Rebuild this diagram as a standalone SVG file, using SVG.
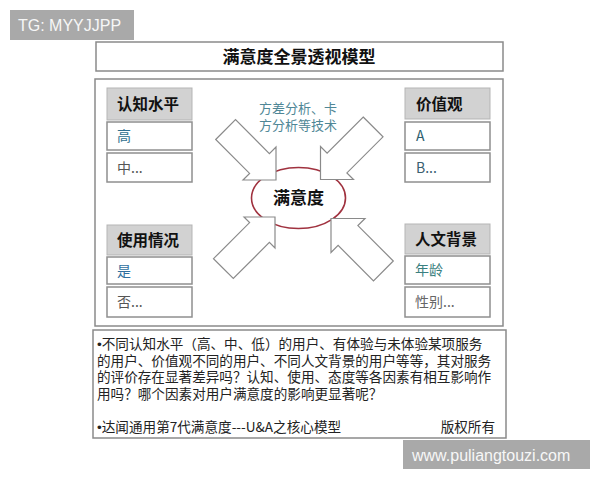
<svg xmlns="http://www.w3.org/2000/svg" width="600" height="480" viewBox="0 0 600 480">
<style>
.frame{fill:#fff;stroke:#8a8a8a;stroke-width:1.5}
.hdr{fill:#d2d2d2;stroke:#b5b5b5;stroke-width:1}
.item{fill:#fff;stroke:#8f8f8f;stroke-width:1.5}
.ht{font-family:"Noto Sans CJK SC","Noto Sans CJK TC",sans-serif;font-size:15.5px;font-weight:bold;fill:#111}
.it{font-family:"Noto Sans CJK SC","Liberation Sans",sans-serif;font-size:14px}
.body{font-family:"Noto Sans CJK SC","Liberation Sans",sans-serif;font-size:13.6px;fill:#222}
.blt{font-family:"Liberation Sans",Arial,sans-serif}
.arrow{fill:#fff;stroke:#8a8a8a;stroke-width:1.2;stroke-linejoin:miter}
.wm{fill:#a9a9a9}
.wmt{font-family:"Liberation Sans",Arial,sans-serif;font-size:16px;fill:#f7f7f7}
</style>
<rect width="600" height="480" fill="#fff"/>

<g id="watermark-top">
<rect class="wm" x="10" y="10" width="124" height="30"/>
<text class="wmt" x="18" y="31">TG: MYYJJPP</text>
</g>

<g id="title">
<rect class="frame" x="96" y="42" width="407" height="29"/>
<text x="299" y="63" text-anchor="middle" font-family="'Noto Sans CJK SC',sans-serif" font-size="17" font-weight="bold" fill="#111">满意度全景透视模型</text>
</g>

<g id="main-frame">
<rect class="frame" x="95" y="79" width="408" height="247"/>
</g>

<g id="center-ellipse">
<ellipse cx="298.5" cy="198" rx="47" ry="30.5" fill="#fff" stroke="#a0323f" stroke-width="1.6"/>
</g>

<g id="connectors">
<polygon class="arrow" points="215.7,139.5 235.5,119.7 269.4,153.6 276,147 276,180 243,180 249.6,173.4"/>
<polygon class="arrow" points="363.2,117 383,136.8 346.9,172.9 353.5,179.5 320.5,179.5 320.5,146.5 327.1,153.1"/>
<polygon class="arrow" points="275,217 275,248 269.4,242.4 233.3,278.5 213.5,258.7 249.6,222.6 244,217"/>
<polygon class="arrow" points="331,218.5 365,218.5 357.9,225.6 393.3,261 373.5,280.8 338.1,245.4 331,252.5"/>
</g>

<g id="center-label">
<text x="298.5" y="204" text-anchor="middle" font-family="'Noto Sans CJK SC',sans-serif" font-size="17" font-weight="bold" fill="#111">满意度</text>
</g>

<g id="method-note">
<text text-anchor="middle" font-family="'Noto Sans CJK SC',sans-serif" font-size="13" fill="#4f8796"><tspan x="298" y="113">方差分析、卡</tspan><tspan x="298" y="130">方分析等技术</tspan></text>
</g>

<g id="cognition">
<rect class="hdr" x="107" y="88" width="85" height="32"/>
<text class="ht" x="117" y="110">认知水平</text>
<rect class="item" x="107" y="122" width="85" height="28"/>
<text class="it" x="117" y="141" fill="#2f6f8f">高</text>
<rect class="item" x="107" y="153" width="85" height="29"/>
<text class="it" x="117" y="173" fill="#555">中...</text>
</g>

<g id="usage">
<rect class="hdr" x="107" y="225" width="85" height="30"/>
<text class="ht" x="117" y="246">使用情况</text>
<rect class="item" x="107" y="257" width="85" height="27"/>
<text class="it" x="117" y="276" fill="#2f6f9f">是</text>
<rect class="item" x="107" y="287" width="85" height="30"/>
<text class="it" x="117" y="307" fill="#555">否...</text>
</g>

<g id="values">
<rect class="hdr" x="405" y="88" width="85" height="31"/>
<text class="ht" x="416" y="110">价值观</text>
<rect class="item" x="405" y="122" width="85" height="28"/>
<text class="it" x="416" y="141" fill="#2f5f6f">A</text>
<rect class="item" x="405" y="153" width="85" height="29"/>
<text class="it" x="416" y="173" fill="#3a6070">B...</text>
</g>

<g id="culture">
<rect class="hdr" x="405" y="224" width="85" height="30"/>
<text class="ht" x="415" y="245">人文背景</text>
<rect class="item" x="405" y="256" width="85" height="28"/>
<text class="it" x="415" y="275" fill="#3a8080">年龄</text>
<rect class="item" x="405" y="287" width="85" height="30"/>
<text class="it" x="415" y="307" fill="#666">性别...</text>
</g>

<g id="notes">
<rect class="frame" x="93" y="330" width="413" height="108" stroke="#7a7a7a"/>
<text class="body"><tspan x="97" y="349"><tspan class="blt">•</tspan>不同认知水平（高、中、低）的用户、有体验与未体验某项服务</tspan><tspan x="97" y="365.5">的用户、价值观不同的用户、不同人文背景的用户等等，其对服务</tspan><tspan x="97" y="382">的评价存在显著差异吗？认知、使用、态度等各因素有相互影响作</tspan><tspan x="97" y="398.5">用吗？哪个因素对用户满意度的影响更显著呢？</tspan></text>
<text class="body" x="97" y="432"><tspan class="blt">•</tspan>达闻通用第7代满意度---U&amp;A之核心模型</text>
<text class="body" x="495" y="432" text-anchor="end">版权所有</text>
</g>

<g id="watermark-bottom">
<rect class="wm" x="403" y="440" width="187" height="29"/>
<text class="wmt" x="412" y="461" font-size="16.5">www.puliangtouzi.com</text>
</g>
</svg>
